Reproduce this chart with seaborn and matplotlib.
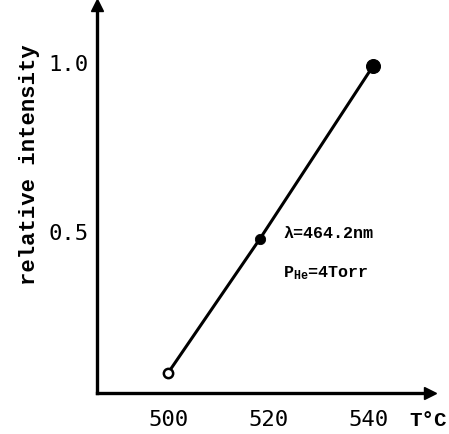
import matplotlib
matplotlib.use("Agg")
import matplotlib.pyplot as plt
import seaborn as sns
import pandas as pd

temperature = [500, 518.4, 541]
intensity = [0.083, 0.48, 0.99]
filled = [False, True, True]
x_ticks = [500, 520, 540]
y_ticks = [0.5, 1.0]
y_tick_labels = ["0.5", "1.0"]

df = pd.DataFrame({"T": temperature, "I": intensity, "filled": filled})

sns.set_style("white")
plt.rcParams["font.family"] = ["DejaVu Sans Mono", "DejaVu Sans"]
plt.rcParams["text.color"] = "black"
plt.rcParams["mathtext.fontset"] = "custom"
plt.rcParams["mathtext.rm"] = "Liberation Mono:bold"
plt.rcParams["mathtext.it"] = "Liberation Mono:bold"
plt.rcParams["mathtext.bf"] = "Liberation Mono:bold"

W, H = 449, 434
fig = plt.figure(figsize=(W / 100, H / 100), dpi=100)
ax = fig.add_axes([0.216, 0.0945, 0.742, 0.894])

sns.lineplot(data=df, x="T", y="I", color="black", linewidth=2.2, ax=ax)
sns.scatterplot(data=df[df["filled"]].iloc[:1], x="T", y="I", color="black", s=55,
                edgecolor="black", ax=ax, zorder=3)
sns.scatterplot(data=df[df["filled"]].iloc[1:], x="T", y="I", color="black", s=100,
                edgecolor="black", ax=ax, zorder=3)
sns.scatterplot(data=df[~df["filled"]], x="T", y="I", facecolor="white", s=45,
                edgecolor="black", linewidth=1.8, ax=ax, zorder=3)

ax.set_xlim(485.8, 552.4)
ax.set_ylim(0.024, 1.17)

for side in ["top", "right"]:
    ax.spines[side].set_visible(False)
for side in ["left", "bottom"]:
    ax.spines[side].set_linewidth(2.4)
    ax.spines[side].set_color("black")

ax.plot(1, 0, ">k", transform=ax.transAxes, clip_on=False, markersize=8)
ax.plot(0, 1, "^k", transform=ax.transAxes, clip_on=False, markersize=8)

ax.set_xticks(x_ticks)
ax.set_xticklabels([str(t) for t in x_ticks])
ax.set_yticks(y_ticks)
ax.set_yticklabels(y_tick_labels)
ax.tick_params(axis="both", direction="in", length=7, width=2, colors="black",
               labelsize=16)
ax.tick_params(axis="x", pad=12)
ax.tick_params(axis="y", pad=6)

ax.set_xlabel("")
ax.set_ylabel("")
fig.text(29 / W, 1 - 165 / H, "relative intensity", fontsize=16, fontweight="bold",
         family=["Liberation Mono", "DejaVu Sans Mono"], rotation=90,
         va="center", ha="center", color="black")

fig.text(447 / W, 1 - 421 / H, "T°C", fontsize=15, fontweight="bold",
         family=["Liberation Mono", "DejaVu Sans Mono"], va="center", ha="right",
         color="black")

ax.text(523, 0.482, "λ=464.2nm", fontsize=12, va="baseline", ha="left",
        family=["Liberation Mono", "DejaVu Sans Mono"], fontweight="bold",
        color="black")
ax.text(523, 0.367, "P$_{\\mathrm{He}}$=4Torr", fontsize=12, va="baseline", ha="left",
        family=["Liberation Mono", "DejaVu Sans Mono"], fontweight="bold",
        color="black")

fig.savefig("out.png", dpi=100)
